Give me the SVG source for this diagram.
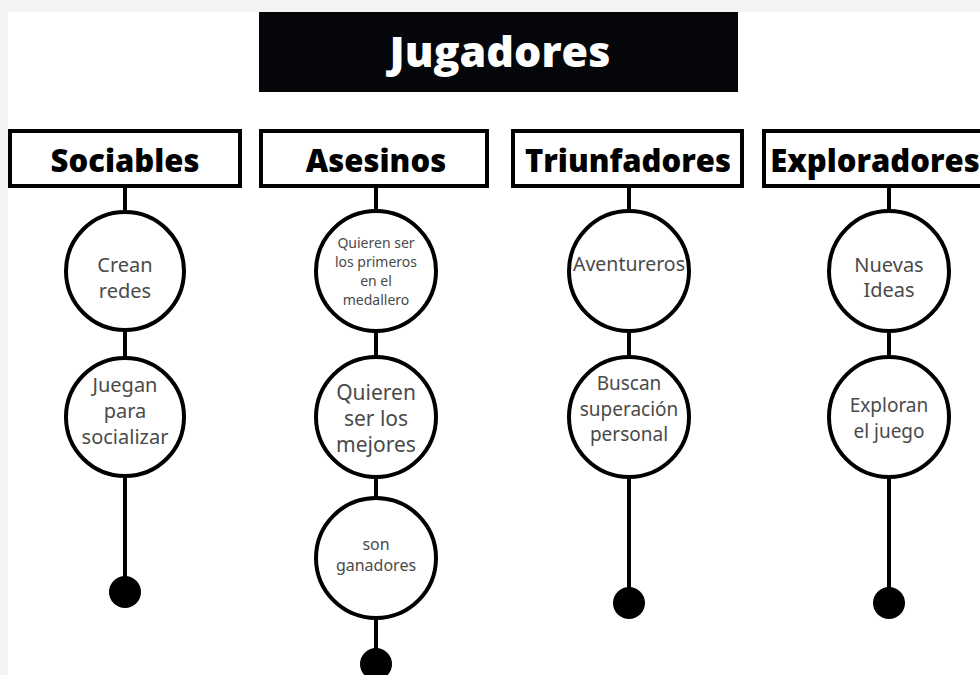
<svg xmlns="http://www.w3.org/2000/svg" width="980" height="675" viewBox="0 0 980 675">
<style>
.hdr{fill:#fff;stroke:#000;stroke-width:4}
.htx{font-family:"Open Sans",Lato,sans-serif;font-weight:800;font-size:31px;fill:#000;text-anchor:middle}
.c{fill:#fff;stroke:#000;stroke-width:4}
.t{font-family:"Noto Sans","Open Sans",sans-serif;fill:#4a4a4a;text-anchor:middle}
.ln{stroke:#000;stroke-width:4;fill:none}
.dot{fill:#000}
</style>
<rect x="0" y="0" width="980" height="675" fill="#f3f3f3"/>
<rect x="8" y="12" width="972" height="663" fill="#fff"/>
<g id="connectors">
<line class="ln" x1="125" y1="187" x2="125" y2="592"/>
<line class="ln" x1="376" y1="187" x2="376" y2="664"/>
<line class="ln" x1="629" y1="187" x2="629" y2="603"/>
<line class="ln" x1="889" y1="187" x2="889" y2="603"/>
<circle class="dot" cx="125" cy="592" r="16"/>
<circle class="dot" cx="376" cy="664" r="16"/>
<circle class="dot" cx="629" cy="603" r="16"/>
<circle class="dot" cx="889" cy="603" r="16"/>
</g>
<g id="title">
<rect x="259" y="12" width="479" height="80" fill="#04060a"/>
<text x="500" y="67" font-family="'Open Sans',Lato,sans-serif" font-weight="800" font-size="43" fill="#fff" text-anchor="middle">Jugadores</text>
</g>
<g id="h-sociables"><rect class="hdr" x="10" y="131" width="230" height="55"/><text class="htx" x="125" y="172">Sociables</text></g>
<g id="h-asesinos"><rect class="hdr" x="261" y="131" width="226" height="55"/><text class="htx" x="376" y="172">Asesinos</text></g>
<g id="h-triunfadores"><rect class="hdr" x="513" y="131" width="229" height="55"/><text class="htx" x="628" y="172">Triunfadores</text></g>
<g id="h-exploradores"><rect class="hdr" x="764" y="131" width="230" height="55"/><text class="htx" x="875" y="172" font-size="30">Exploradores</text></g>

<g id="n-crean"><circle class="c" cx="125" cy="271" r="59"/><text class="t" font-size="20"><tspan x="125" y="272">Crean</tspan><tspan x="125" y="298">redes</tspan></text></g>
<g id="n-juegan"><circle class="c" cx="125" cy="417" r="59"/><text class="t" font-size="20"><tspan x="125" y="392">Juegan</tspan><tspan x="125" y="418">para</tspan><tspan x="125" y="444">socializar</tspan></text></g>

<g id="n-medallero"><circle class="c" cx="376" cy="271" r="60"/><text class="t" font-size="14"><tspan x="376" y="248">Quieren ser</tspan><tspan x="376" y="267">los primeros</tspan><tspan x="376" y="286">en el</tspan><tspan x="376" y="305">medallero</tspan></text></g>
<g id="n-mejores"><circle class="c" cx="376" cy="417" r="60"/><text class="t" font-size="21"><tspan x="376" y="400">Quieren</tspan><tspan x="376" y="426">ser los</tspan><tspan x="376" y="452">mejores</tspan></text></g>
<g id="n-ganadores"><circle class="c" cx="376" cy="558" r="60"/><text class="t" font-size="16"><tspan x="376" y="550">son</tspan><tspan x="376" y="571">ganadores</tspan></text></g>

<g id="n-aventureros"><circle class="c" cx="629" cy="271" r="60"/><text class="t" font-size="19.5" x="629" y="271">Aventureros</text></g>
<g id="n-buscan"><circle class="c" cx="629" cy="417" r="60"/><text class="t" font-size="19"><tspan x="629" y="390">Buscan</tspan><tspan x="629" y="416">superación</tspan><tspan x="629" y="441">personal</tspan></text></g>

<g id="n-nuevas"><circle class="c" cx="889" cy="271" r="60"/><text class="t" font-size="20"><tspan x="889" y="272">Nuevas</tspan><tspan x="889" y="297">Ideas</tspan></text></g>
<g id="n-exploran"><circle class="c" cx="889" cy="417" r="60"/><text class="t" font-size="19"><tspan x="889" y="412">Exploran</tspan><tspan x="889" y="438">el juego</tspan></text></g>
</svg>
